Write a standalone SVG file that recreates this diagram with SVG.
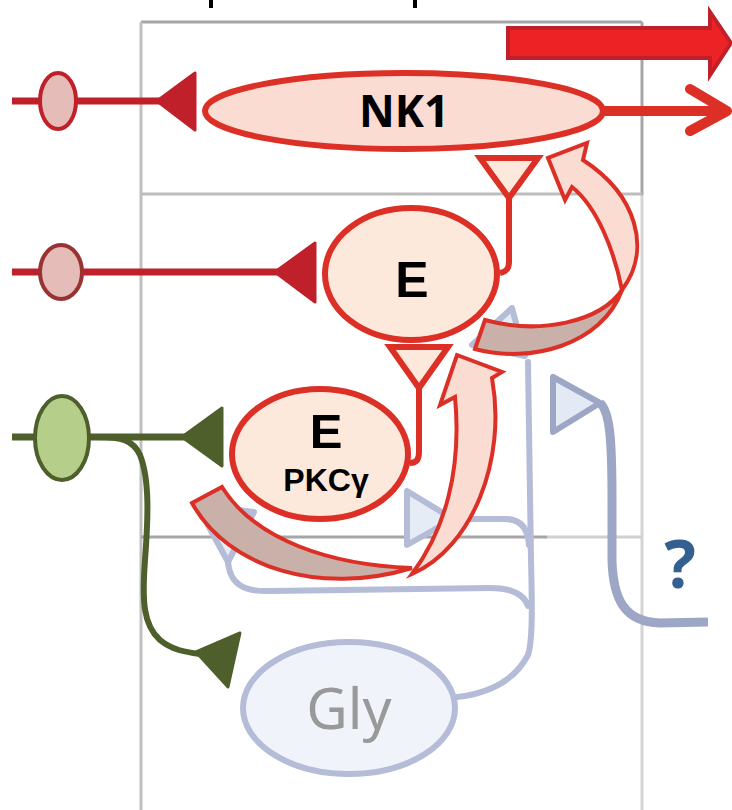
<svg xmlns="http://www.w3.org/2000/svg" width="732" height="810" viewBox="0 0 732 810">
  <style>
    .frame { stroke-width: 3; fill: none; }
    .lbl { font-family: "Noto Sans", "Open Sans", "Liberation Sans", sans-serif; font-weight: bold; fill: #000; text-anchor: middle; }
    .lblE { font-family: "Liberation Sans", Arial, sans-serif; font-weight: bold; fill: #000; text-anchor: middle; }
    .redEll { fill: #fde9db; stroke: #dc2f26; stroke-width: 6; }
    .gly { fill: none; stroke: #b4bcd8; stroke-width: 6; stroke-linecap: round; stroke-linejoin: round; }
    .glyTri { fill: #e6ecf6; stroke: #b4bcd8; stroke-width: 6; stroke-linejoin: round; }
    .back { fill: #c9b0a8; stroke: #dc2f26; stroke-width: 4; stroke-linejoin: miter; }
    .front { fill: #fbdcd3; stroke: #dc2f26; stroke-width: 4; stroke-linejoin: miter; }
  </style>

  <rect width="732" height="810" fill="#ffffff"/>

  <!-- frame lines -->
  <g id="frame">
    <rect x="209" y="0" width="4" height="8" fill="#000"/>
    <rect x="413" y="0" width="4" height="8" fill="#000"/>
    <line x1="141" y1="22" x2="642" y2="22" class="frame" stroke="#a6a6a6"/>
    <line x1="141" y1="22" x2="141" y2="810" class="frame" stroke="#c0c0c0"/>
    <line x1="642" y1="22" x2="642" y2="195" class="frame" stroke="#a6a6a6"/>
    <line x1="642" y1="195" x2="642" y2="810" class="frame" stroke="#d4d4d4"/>
    <line x1="141" y1="194" x2="642" y2="194" class="frame" stroke="#bdbdbd"/>
    <line x1="141" y1="537" x2="547" y2="537" class="frame" stroke="#a6a6a6"/>
    <line x1="547" y1="537" x2="642" y2="537" class="frame" stroke="#d0d0d0"/>
  </g>

  <!-- connectors -->
  <g id="connectors">
    <!-- glycinergic branches -->
    <path class="gly" d="M457,697 C490,693 515,680 528,655 C533,640 532,600 531,560 L528,362"/>
    <path class="gly" d="M528,606 C524,594 510,588 490,588 L270,591 C245,592 230,585 228,562"/>
    <path class="gly" d="M453,519 L505,519 C520,519 528,528 529,545"/>
    <polygon class="glyTri" points="512,308 472,345 525,356"/>
    <polygon class="glyTri" points="407,491 407,545 453,519"/>
    <polygon class="glyTri" points="197,505 254,512 228,562"/>

    <!-- unknown input -->
    <path d="M600,403 C610,412 612,440 612,500 L612,560 C613,600 625,622 660,623 L708,622" fill="none" stroke="#9ea6c6" stroke-width="9" stroke-linecap="butt"/>
    <polygon points="553,377 553,432 600,403" fill="#e3eaf5" stroke="#9ea6c6" stroke-width="6" stroke-linejoin="round"/>

    <!-- NK1 row -->
    <line x1="12" y1="101" x2="170" y2="101" stroke="#c0202a" stroke-width="7"/>
    <polygon points="157,101 195,73 195,130" fill="#c0202a" stroke="#c0202a" stroke-width="3" stroke-linejoin="round"/>
    <ellipse cx="58" cy="101" rx="18" ry="28" fill="#e6bcb9" stroke="#c0202a" stroke-width="4"/>

    <!-- middle E row -->
    <line x1="12" y1="272" x2="285" y2="272" stroke="#c0202a" stroke-width="7"/>
    <polygon points="275,272 315,243 315,302" fill="#c0202a" stroke="#c0202a" stroke-width="3" stroke-linejoin="round"/>
    <ellipse cx="61" cy="272" rx="21" ry="27" fill="#e6bcb9" stroke="#993333" stroke-width="4"/>

    <!-- green row -->
    <line x1="12" y1="437" x2="190" y2="437" stroke="#4e5f2c" stroke-width="7"/>
    <path d="M97,437 C122,437 133,440 140,455 C150,480 148,520 145,560 C142,600 143,625 160,640 C172,650 185,652 200,654" fill="none" stroke="#4e5f2c" stroke-width="6"/>
    <polygon points="182,437 222,408 222,466" fill="#4e5f2c" stroke="#4e5f2c" stroke-width="3" stroke-linejoin="round"/>
    <polygon points="196,652 240,633 228,687" fill="#4e5f2c" stroke="#4e5f2c" stroke-width="3" stroke-linejoin="round"/>
    <ellipse cx="62" cy="438" rx="27" ry="42" fill="#b5cf8a" stroke="#4e5f2c" stroke-width="4"/>

    <!-- outgoing arrows on the right -->
    <polygon points="508,28 710,28 710,12 731,43 710,75 710,58 508,58" fill="#ed2224" stroke="#c0202a" stroke-width="4"/>
    <line x1="600" y1="111" x2="724" y2="111" stroke="#dc2f26" stroke-width="10"/>
    <polyline points="690,89 727,111 690,131" fill="none" stroke="#dc2f26" stroke-width="10" stroke-linecap="round" stroke-linejoin="round"/>
  </g>

  <!-- nodes -->
  <g id="nk1">
    <ellipse cx="404" cy="111" rx="199" ry="38" fill="#fbdcd3" stroke="#dc2f26" stroke-width="6"/>
    <text class="lbl" x="404" y="127" font-size="44">NK1</text>
  </g>

  <g id="e-mid">
    <path d="M509,198 L509,262 C509,270 505,272 500,273" fill="none" stroke="#dc2f26" stroke-width="6"/>
    <polygon points="480,158 538,158 509,198" fill="#fde9db" stroke="#dc2f26" stroke-width="6" stroke-linejoin="miter"/>
    <ellipse class="redEll" cx="411" cy="274" rx="86" ry="66"/>
    <text class="lblE" x="412" y="297" font-size="50">E</text>
  </g>

  <g id="e-pkc">
    <path d="M419,388 L419,452 C419,460 416,463 410,463" fill="none" stroke="#dc2f26" stroke-width="6"/>
    <polygon points="390,347 448,347 419,388" fill="#fde9db" stroke="#dc2f26" stroke-width="6" stroke-linejoin="miter"/>
    <ellipse class="redEll" cx="320" cy="454" rx="88" ry="65"/>
    <text class="lblE" x="326" y="448" font-size="49">E</text>
    <text class="lblE" x="326" y="491" font-size="32">PKCγ</text>
  </g>

  <g id="gly">
    <ellipse cx="349" cy="708" rx="106" ry="66" fill="#f0f4fa" stroke="#b4bcd8" stroke-width="6"/>
    <text x="349" y="729" font-size="57" fill="#999999" text-anchor="middle" font-family="Noto Sans, Open Sans, Liberation Sans, sans-serif">Gly</text>
  </g>

  <g id="unknown">
    <text class="lbl" x="680" y="588" font-size="66" style="fill:#336090">?</text>
  </g>

  <!-- feedback ribbons -->
  <g id="loop-upper">
    <path class="back" d="M475,349 L485,320 C540,335 600,322 622,290 C602,345 530,364 475,349 Z"/>
    <path class="front" d="M622,290 C652,250 637,195 583,160 L587,143 L548,158 L565,200 L572,187 C597,207 614,250 622,290 Z"/>
  </g>

  <g id="loop-lower">
    <path class="back" d="M192,503 L222,487 C255,540 330,565 412,568 C320,596 228,568 192,503 Z"/>
    <path class="front" d="M412,574 C472,548 507,460 492,378 L502,372 L457,355 L440,405 L455,397 C462,470 445,530 412,574 Z"/>
  </g>
</svg>
